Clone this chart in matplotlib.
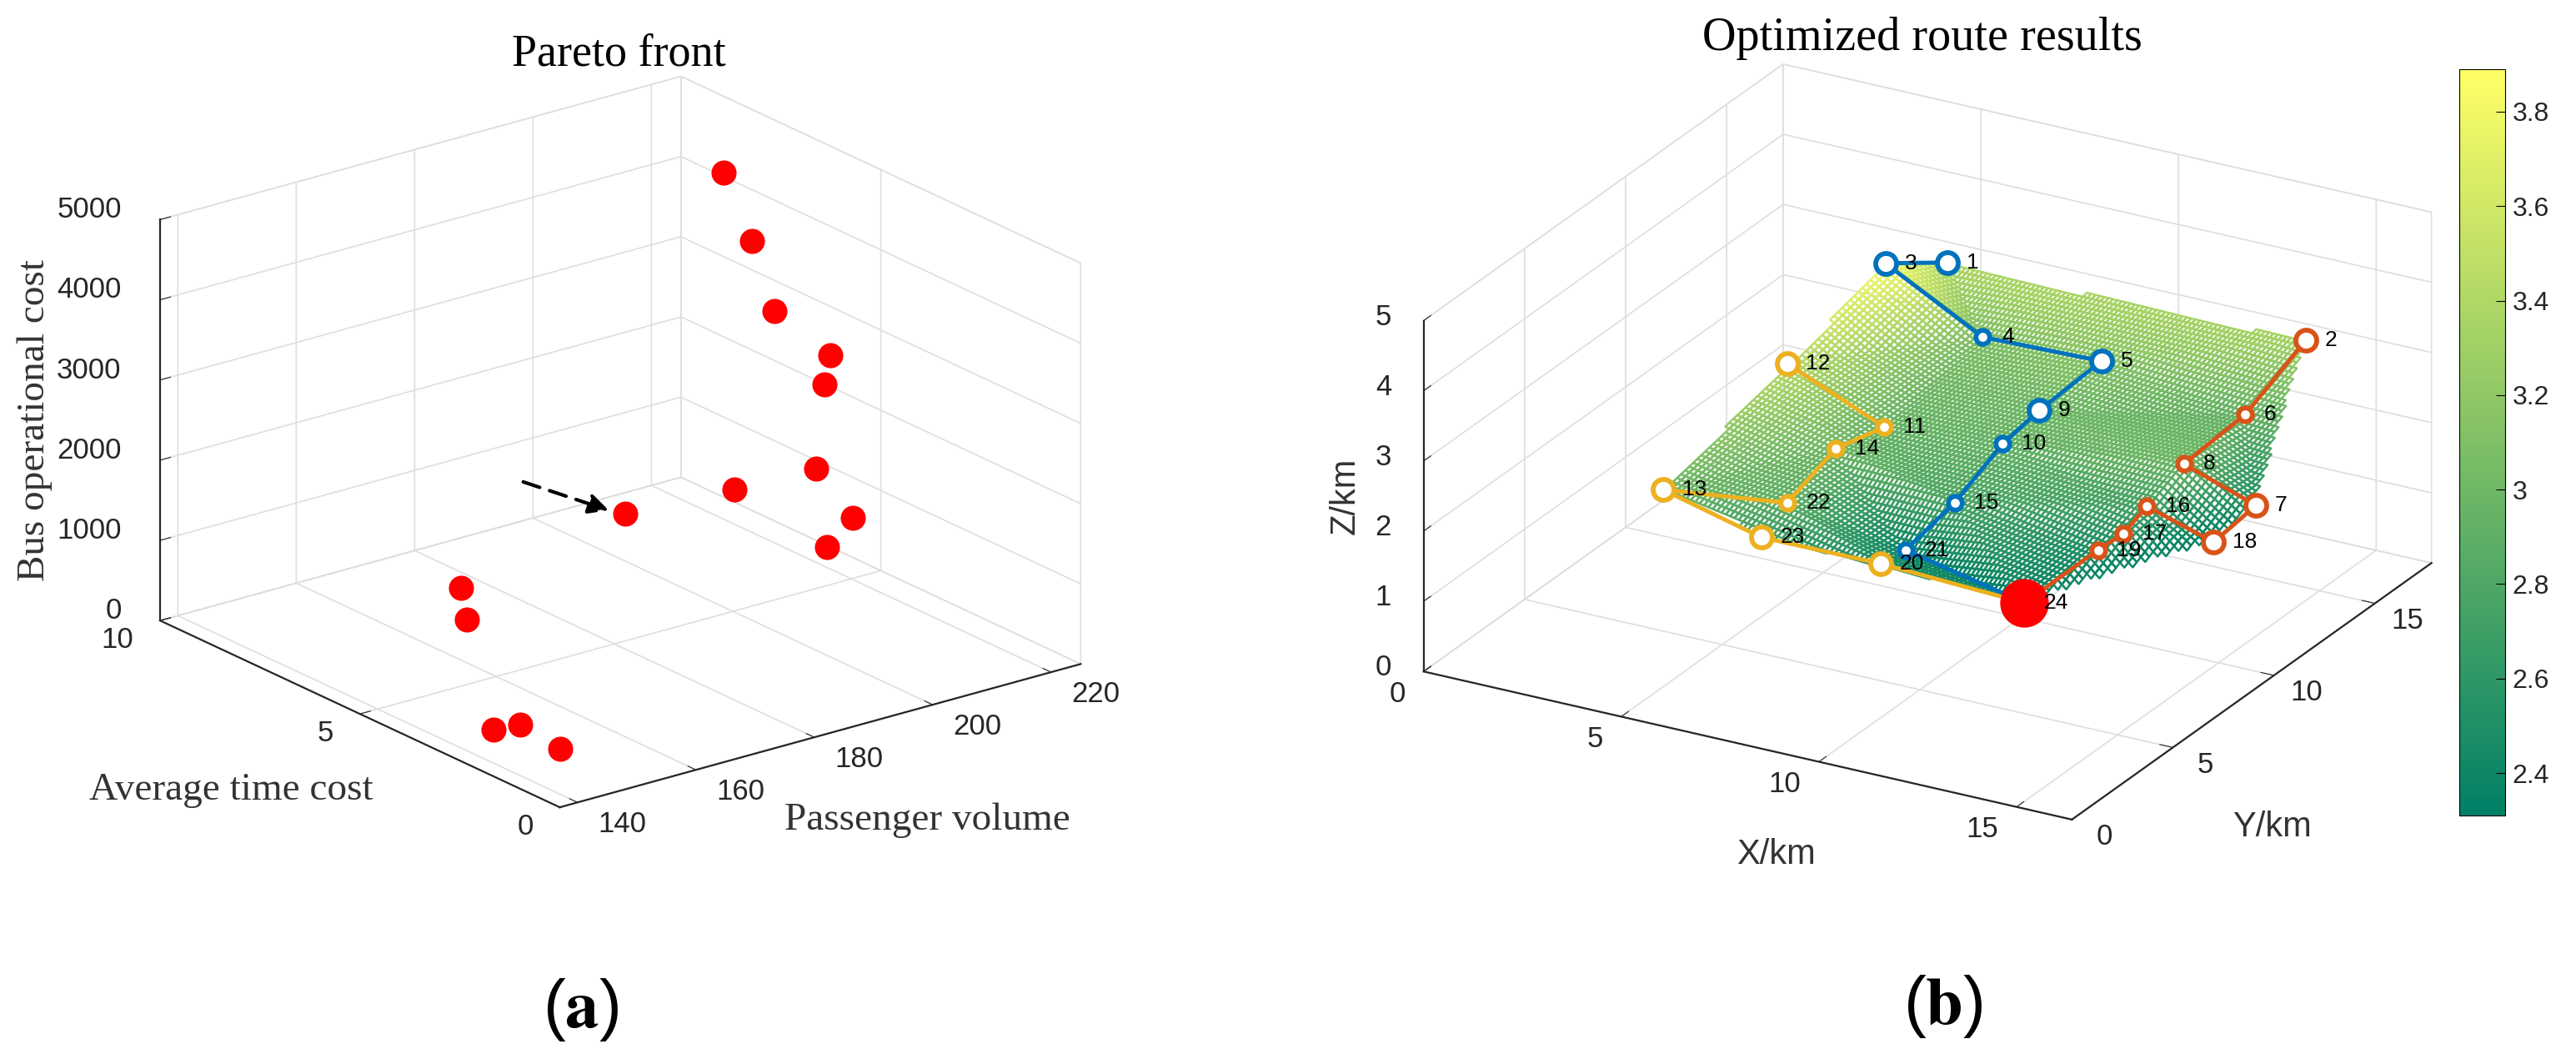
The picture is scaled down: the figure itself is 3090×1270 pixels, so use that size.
import matplotlib
matplotlib.use('Agg')
import matplotlib.pyplot as plt
import matplotlib.tri as mtri
import numpy as np
from matplotlib.cm import ScalarMappable
from matplotlib.colors import Normalize
from mpl_toolkits.mplot3d import proj3d
from mpl_toolkits.mplot3d.art3d import Poly3DCollection

W, H = 3090, 1270

# pareto front
pass_vol = [212, 210, 207, 203, 202, 204, 203.6, 200, 195.6, 181.8, 160.8, 161.8, 146, 147.2, 147.2]
time_cost = [7, 6, 5, 3, 3, 3.5, 5.5, 2, 2, 5, 6, 6, 3, 2.5, 1.5]
bus_cost = [4760, 4180, 3600, 3600, 3250, 2050, 1330, 1870, 1590, 1590, 860, 440, 90, 240, 170]

# nodes of the road network, index 0 is node 1
node_x = [5.46, 14.32, 5.14, 7.57, 10.59, 14.4, 16.2, 14.65, 10.44, 10.54, 7.82, 5.19,
          5.37, 7.57, 10.92, 14.6, 14.7, 16.0, 14.37, 10.57, 10.5, 7.9, 7.95, 14.1]
node_y = [15.24, 15.66, 12.8, 12.86, 12.83, 12.49, 9.5, 8.97, 10.04, 8.04, 7.5, 7.83,
          1.36, 5.6, 4.92, 7.22, 5.87, 7.8, 5.26, 1.93, 3.32, 2.53, 1.15, 2.15]
node_z = [3.4, 3.35, 3.85, 3.1, 3.15, 2.95, 2.5, 3.0, 3.0, 2.95, 2.95, 3.45,
          3.0, 3.0, 2.8, 2.75, 2.65, 2.3, 2.5, 2.5, 2.4, 2.9, 2.7, 2.35]

route_blue = [1, 3, 4, 5, 9, 10, 15, 21, 24]
route_orange = [2, 6, 8, 7, 18, 16, 17, 19, 24]
route_yellow = [12, 11, 14, 22, 13, 23, 20, 24]
small_nodes = [4, 10, 11, 14, 15, 16, 17, 19, 21, 22, 6, 8]

plt.rcParams['font.family'] = ['Liberation Sans', 'DejaVu Sans']
plt.rcParams['mathtext.fontset'] = 'stix'
SERIF = 'Liberation Serif'
fig = plt.figure(figsize=(W / 100, H / 100), dpi=100, facecolor='white')


def style_axes(ax):
    for axis in (ax.xaxis, ax.yaxis, ax.zaxis):
        axis.set_pane_color((1, 1, 1, 1))
        axis.pane.set_edgecolor('#dcdcdc')
        axis.line.set_color('#262626')
        axis.line.set_linewidth(1.6)
        axis._axinfo['grid']['color'] = '#dedede'
        axis._axinfo['grid']['linewidth'] = 1.2
        axis._axinfo['tick']['inward_factor'] = 0.0
        axis._axinfo['tick']['outward_factor'] = 0.25
    ax.tick_params(labelsize=25, labelcolor='#262626', color='#262626', pad=16)


def make_axes(left, top, size, box, zoom, elev, azim):
    ax = fig.add_axes([left / W, 1 - (top + size) / H, size / W, size / H], projection='3d',
                      proj_type='ortho', computed_zorder=False)
    ax.view_init(elev=elev, azim=azim)
    ax.set_box_aspect(box, zoom=zoom)
    ax.patch.set_alpha(0)
    style_axes(ax)
    return ax


def align_ticks(axis, ha):
    for lab in axis.get_ticklabels():
        lab.set_ha(ha)
        lab.set_va('baseline')


def put_text(x, y, s, **kw):
    fig.text(x / W, 1 - y / H, s, ha='center', va='center', **kw)


# (a)
ax1 = make_axes(92, -88, 1270, (1, 1, 0.654), 0.938, 21, -127.5)
ax1.scatter(pass_vol, time_cost, bus_cost, s=470, c='#ff0000', depthshade=False, linewidths=0, zorder=3)
ax1.set_xlim(137, 225)
ax1.set_ylim(0, 10)
ax1.set_zlim(0, 5000)
ax1.set_xticks([140, 160, 180, 200, 220])
ax1.set_yticks([0, 5, 10])
ax1.set_zticks([0, 1000, 2000, 3000, 4000, 5000])
ax1.zaxis.set_tick_params(pad=12)
align_ticks(ax1.xaxis, 'left')
align_ticks(ax1.yaxis, 'right')
align_ticks(ax1.zaxis, 'right')
put_text(1112, 984, 'Passenger volume', family=SERIF, fontsize=34, color='#333333')
put_text(277, 948, 'Average time cost', family=SERIF, fontsize=34, color='#333333')
put_text(42, 504, 'Bus operational cost', family=SERIF, fontsize=34, rotation=90, color='#333333')
ax1.set_title('Pareto front', family=SERIF, fontsize=39, x=0.512, y=0.949, va='center')
ax1.annotate('', xy=(733 / W, 1 - 613 / H), xytext=(625 / W, 1 - 577 / H), xycoords='figure fraction',
             textcoords='figure fraction',
             arrowprops=dict(arrowstyle='-|>', linestyle=(0, (5, 3)), lw=3, color='black', mutation_scale=36))

# (b)
ax2 = make_axes(1660, -88, 1270, (1.02, 1, 0.525), 1.019, 23.8, -60.5)
ax2.zaxis.set_ticks_position('lower')
norm = Normalize(2.31, 3.89)

# griddata style mesh over the nodes, only the grid lines are coloured
tri = mtri.Triangulation(node_x, node_y)
interp = mtri.LinearTriInterpolator(tri, node_z)
gx, gy = np.meshgrid(np.arange(0, 16.4, 0.11), np.arange(0, 17.8, 0.2))
gz = np.ma.filled(interp(gx, gy), np.nan)
grid = np.stack([gx, gy, gz], axis=-1)
quads = np.stack([grid[:-1, :-1], grid[:-1, 1:], grid[1:, 1:], grid[1:, :-1]], axis=2)
quads = quads[np.isfinite(quads).all(axis=(2, 3))]
mesh_colors = plt.cm.summer(norm(quads[:, :, 2].mean(axis=1)))
mesh = Poly3DCollection(quads, facecolors=(1, 1, 1, 0), edgecolors=mesh_colors, linewidths=1.8, zorder=1)
ax2.add_collection3d(mesh)

for route, col in zip((route_blue, route_orange, route_yellow), ('#0072bd', '#d95319', '#edb120')):
    idx = [n - 1 for n in route]
    xs = [node_x[i] for i in idx]
    ys = [node_y[i] for i in idx]
    zs = [node_z[i] for i in idx]
    ax2.plot(xs, ys, zs, color=col, lw=3.6, zorder=2)
    for i in idx[:-1]:
        size = 12 if i + 1 in small_nodes else 18
        ax2.plot([node_x[i]], [node_y[i]], [node_z[i]], 'o', mfc='white', mec=col, mew=4.2, ms=size, zorder=3)
ax2.plot([node_x[23]], [node_y[23]], [node_z[23]], 'o', color='#ff0000', ms=41, zorder=4)
ax2.set_xlim(0, 16.4)
ax2.set_ylim(0, 17.8)
ax2.set_zlim(0, 5)
ax2.set_xticks([0, 5, 10, 15])
ax2.set_yticks([0, 5, 10, 15])
ax2.set_zticks([0, 1, 2, 3, 4, 5])
ax2.zaxis.set_tick_params(pad=11)
align_ticks(ax2.xaxis, 'right')
align_ticks(ax2.yaxis, 'center')
align_ticks(ax2.zaxis, 'center')
M = ax2.get_proj()
for i in range(24):
    px, py, _ = proj3d.proj_transform(node_x[i], node_y[i], node_z[i], M)
    ax2.annotate(str(i + 1), xy=(px, py), xytext=(16.5, 0), textcoords='offset points', fontsize=19,
                 ha='left', va='center', zorder=5)
put_text(2130, 1025, 'X/km', fontsize=30, color='#333333')
put_text(2726, 992, 'Y/km', fontsize=30, color='#333333')
put_text(1614, 595, 'Z/km', fontsize=30, rotation=90, color='#333333')
ax2.set_title('Optimized route results', family=SERIF, fontsize=40.5, x=0.5087, y=0.965, va='center')

cax = fig.add_axes([2950 / W, 1 - 978 / H, 55 / W, 895 / H])
cb = fig.colorbar(ScalarMappable(norm=norm, cmap='summer'), cax=cax)
cb.set_ticks([2.4, 2.6, 2.8, 3, 3.2, 3.4, 3.6, 3.8], labels=['2.4', '2.6', '2.8', '3', '3.2', '3.4', '3.6', '3.8'])
cb.ax.tick_params(labelsize=23, direction='in', labelcolor='#262626', length=8, pad=6)

put_text(696, 1211, r'($\mathbf{a}$)', fontsize=58)
put_text(2331, 1207, r'($\mathbf{b}$)', fontsize=58)

fig.savefig('out.png', dpi=100)
